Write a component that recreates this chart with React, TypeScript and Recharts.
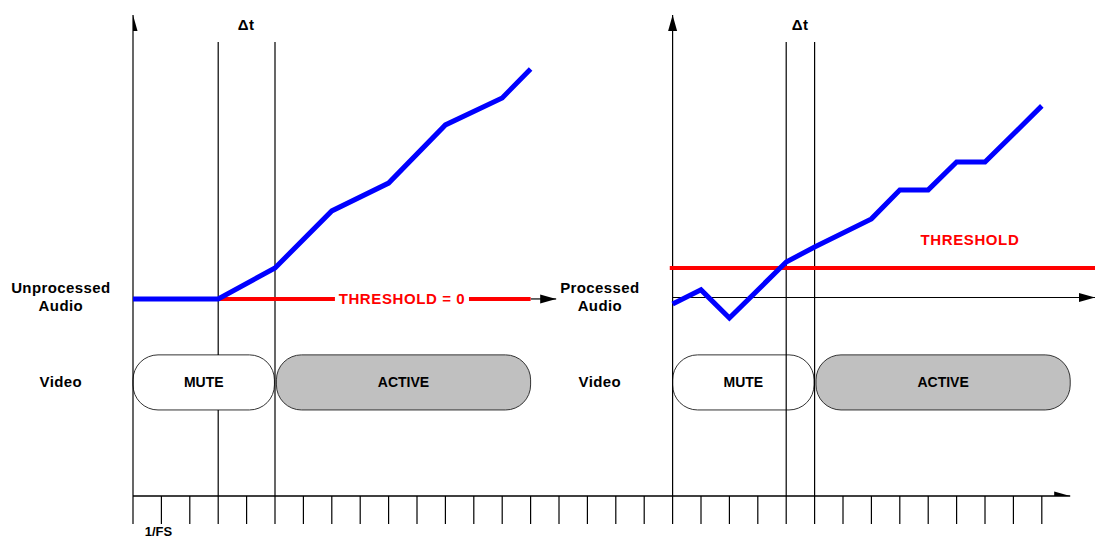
import {
  ComposedChart,
  Line,
  XAxis,
  YAxis,
  ReferenceLine,
  ReferenceArea,
  ReferenceDot,
  Scatter,
} from "recharts";

// time axis: one tick per sample period (1/FS)
const timeTicks = [0, 1, 2, 3, 4, 5, 6, 7, 8, 9, 10, 11, 12, 13, 14, 15, 16, 17, 18, 19, 20, 21, 22, 23, 24, 25, 26, 27, 28, 29, 30, 31, 32];

// unprocessed audio (left panel)
const rawT = [0, 3, 5, 7, 9, 11, 13, 14];
const rawLevel = [0, 0, 1.09, 3.1, 4.08, 6.13, 7.08, 8.1];

// processed audio (right panel)
const procT = [19, 20, 21, 23, 24, 26, 27, 28, 29, 30, 32];
const procLevel = [-0.18, 0.32, -0.67, 1.3, 1.83, 2.82, 3.84, 3.84, 4.82, 4.82, 6.8];

// video state segments
const videoLabels = ["MUTE", "ACTIVE", "MUTE", "ACTIVE"];
const videoStart = [0, 5.05, 19, 24.05];
const videoEnd = [4.98, 14, 23.98, 33];

const deltaT = [5, 23, 24];
const yAxesAt = [0, 19];
const leftThreshold = 0;
const rightThreshold = 1.09;

const X_MAX = 33.873;
const Y_MIN = -6.94;
const Y_MAX = 10;
const DT_TOP = 9.05;
const BOX_TOP = -1.97;
const BOX_BOTTOM = -3.91;

const FONT = "'Liberation Sans', Arial, sans-serif";

const rawData = rawT.map((t, i) => ({ t, v: rawLevel[i] }));
const procData = procT.map((t, i) => ({ t, v: procLevel[i] }));

const arrows = [
  { t: 0, v: Y_MAX, dir: "up" },
  { t: 19, v: Y_MAX, dir: "up" },
  { t: 33, v: Y_MIN, dir: "right" },
  { t: 14.9, v: 0, dir: "right" },
  { t: X_MAX, v: 0.05, dir: "right" },
];

const ArrowHead = (props: any) => {
  const { cx, cy, payload } = props;
  if (cx == null || cy == null) return <g />;
  const L = 16;
  const W = 4.5;
  const pts =
    payload.dir === "up"
      ? `${cx},${cy} ${cx - W},${cy + L} ${cx + W},${cy + L}`
      : `${cx},${cy} ${cx - L},${cy - W} ${cx - L},${cy + W}`;
  return <polygon points={pts} fill="#000" />;
};

const textShape =
  (lines: string[], color = "#000", size = 15, spacing = 0.4) =>
  (props: any) => {
    const { cx, cy } = props;
    const gap = size * 1.2;
    const first = -((lines.length - 1) * gap) / 2;
    return (
      <text
        x={cx}
        y={cy}
        textAnchor="middle"
        fontFamily={FONT}
        fontWeight="bold"
        fontSize={size}
        fill={color}
        letterSpacing={spacing}
      >
        {lines.map((s, i) => (
          <tspan key={i} x={cx} y={cy + first + i * gap} dominantBaseline="central">
            {s}
          </tspan>
        ))}
      </text>
    );
  };

const pillShape = (label: string, active: boolean) => (props: any) => {
  const { x, y, width, height } = props;
  return (
    <g>
      <rect
        x={x}
        y={y}
        width={width}
        height={height}
        rx={25}
        ry={25}
        fill={active ? "#c0c0c0" : "#fff"}
        stroke="#333"
        strokeWidth={1}
      />
      <text
        x={x + width / 2}
        y={y + height / 2}
        textAnchor="middle"
        dominantBaseline="central"
        fontFamily={FONT}
        fontWeight="bold"
        fontSize={14}
        fill="#000"
      >
        {label}
      </text>
    </g>
  );
};

const TimeTick = (props: any) => {
  const { x, payload } = props;
  if (payload.value !== 1) return <g />;
  return (
    <text x={x - 3} y={536} textAnchor="middle" fontFamily={FONT} fontWeight="bold" fontSize={13} fill="#000">
      1/FS
    </text>
  );
};

const labels = [
  { t: -2.54, v: 0.1, lines: ["Unprocessed", "Audio"] },
  { t: 16.44, v: 0.1, lines: ["Processed", "Audio"] },
  { t: -2.54, v: -2.89, lines: ["Video"] },
  { t: 16.44, v: -2.89, lines: ["Video"] },
  { t: 3.98, v: 9.65, lines: ["Δt"] },
  { t: 23.49, v: 9.65, lines: ["Δt"] },
];

export default function App() {
  return (
    <div style={{ position: "absolute", left: 0, top: 0, width: 1095, height: 540, background: "#fff" }}>
      <ComposedChart width={1095} height={540} margin={{ top: 15, right: 0, bottom: 4, left: 133 }}>
        <XAxis
          type="number"
          dataKey="t"
          domain={[0, X_MAX]}
          ticks={timeTicks}
          interval={0}
          axisLine={false}
          tickSize={28}
          tickLine={{ stroke: "#000", strokeWidth: 1.2 }}
          tick={<TimeTick />}
          height={40}
          allowDataOverflow
        />
        <YAxis type="number" dataKey="v" domain={[Y_MIN, Y_MAX]} hide allowDataOverflow />

        {yAxesAt.map((t) => (
          <ReferenceLine
            key={`ya${t}`}
            segment={[{ x: t, y: Y_MAX }, { x: t, y: Y_MIN }]}
            stroke="#000"
            strokeWidth={1.2}
            ifOverflow="visible"
          />
        ))}
        {/* first left Δt marker is hidden behind the MUTE pill */}
        <ReferenceLine segment={[{ x: 3, y: DT_TOP }, { x: 3, y: BOX_TOP }]} stroke="#000" strokeWidth={1.2} ifOverflow="visible" />
        <ReferenceLine segment={[{ x: 3, y: BOX_BOTTOM }, { x: 3, y: Y_MIN }]} stroke="#000" strokeWidth={1.2} ifOverflow="visible" />
        {deltaT.map((t) => (
          <ReferenceLine
            key={`dt${t}`}
            segment={[{ x: t, y: DT_TOP }, { x: t, y: Y_MIN }]}
            stroke="#000"
            strokeWidth={1.2}
            ifOverflow="visible"
          />
        ))}
        <ReferenceLine segment={[{ x: 0, y: Y_MIN }, { x: 33, y: Y_MIN }]} stroke="#000" strokeWidth={1.5} ifOverflow="visible" />
        <ReferenceLine segment={[{ x: 14, y: 0 }, { x: 14.9, y: 0 }]} stroke="#000" strokeWidth={1.2} ifOverflow="visible" />
        <ReferenceLine segment={[{ x: 19, y: 0.05 }, { x: X_MAX, y: 0.05 }]} stroke="#000" strokeWidth={1.2} ifOverflow="visible" />

        <ReferenceLine segment={[{ x: 3, y: leftThreshold }, { x: 7.11, y: leftThreshold }]} stroke="#ff0000" strokeWidth={4} ifOverflow="visible" />
        <ReferenceLine segment={[{ x: 11.83, y: leftThreshold }, { x: 14, y: leftThreshold }]} stroke="#ff0000" strokeWidth={4} ifOverflow="visible" />
        <ReferenceLine segment={[{ x: 18.9, y: rightThreshold }, { x: X_MAX, y: rightThreshold }]} stroke="#ff0000" strokeWidth={4} ifOverflow="visible" />

        {videoLabels.map((label, i) => (
          <ReferenceArea
            key={`vid${i}`}
            x1={videoStart[i]}
            x2={videoEnd[i]}
            y1={BOX_BOTTOM}
            y2={BOX_TOP}
            ifOverflow="visible"
            shape={pillShape(label, label === "ACTIVE")}
          />
        ))}

        <Line data={rawData} dataKey="v" stroke="#0000ff" strokeWidth={5} dot={false} isAnimationActive={false} />
        <Line data={procData} dataKey="v" stroke="#0000ff" strokeWidth={5} dot={false} isAnimationActive={false} />

        <Scatter data={arrows} dataKey="v" shape={<ArrowHead />} isAnimationActive={false} />

        {labels.map((l, i) => (
          <ReferenceDot key={`lbl${i}`} x={l.t} y={l.v} r={0} ifOverflow="visible" shape={textShape(l.lines)} />
        ))}
        <ReferenceDot x={9.47} y={leftThreshold} r={0} ifOverflow="visible" shape={textShape(["THRESHOLD = 0"], "#ff0000", 15, 0.6)} />
        <ReferenceDot x={29.47} y={2.11} r={0} ifOverflow="visible" shape={textShape(["THRESHOLD"], "#ff0000", 15, 0.6)} />
      </ComposedChart>
    </div>
  );
}
